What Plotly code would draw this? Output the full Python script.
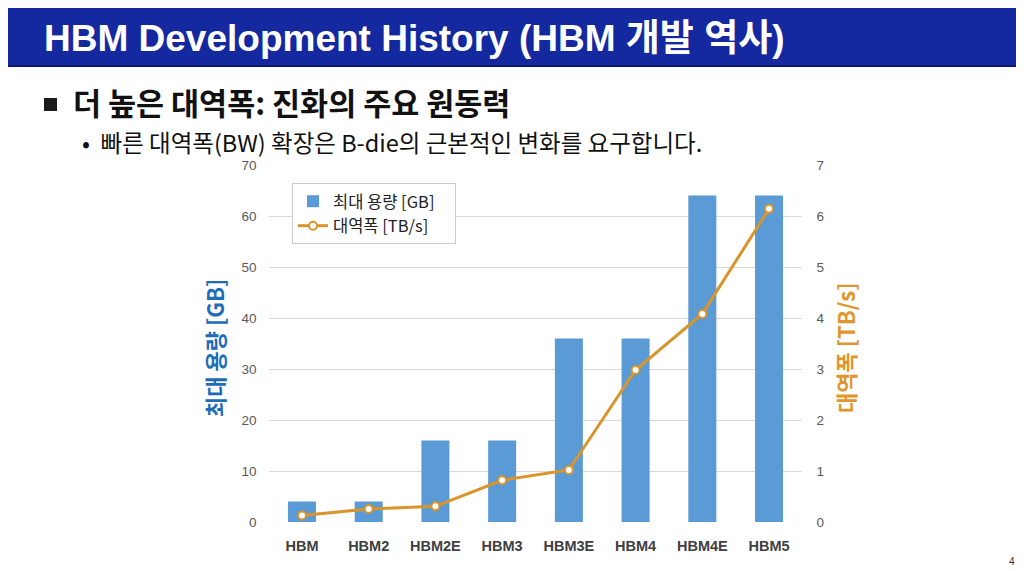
import plotly.graph_objects as go

categories = ["HBM", "HBM2", "HBM2E", "HBM3", "HBM3E", "HBM4", "HBM4E", "HBM5"]
capacity_gb = [4, 4, 16, 16, 36, 36, 64, 64]
bandwidth_tbs = [0.128, 0.256, 0.307, 0.819, 1.02, 2.98, 4.08, 6.14]
left_ticks = [0, 10, 20, 30, 40, 50, 60, 70]
right_ticks = [0, 1, 2, 3, 4, 5, 6, 7]

W, H = 1024, 571
OFF = 8  # page body margin in the browser
def px(x):
    return (x - OFF) / W
def py(y):
    return 1 - (y - OFF) / H

KR = "Noto Sans CJK KR"
AR = "Liberation Sans"
BAR_C = "#5b9bd5"
LINE_C = "#d9952b"
AX_BLUE = "#1f6cb9"
AX_ORANGE = "#e0962c"
PAD = "\u00a0\u00a0\u00a0\u00a0"

fig = go.Figure()
fig.add_trace(go.Bar(
    x=categories, y=capacity_gb, name="최대 용량 [GB]" + PAD,
    marker=dict(color=BAR_C, line=dict(width=0)), yaxis="y",
))
fig.add_trace(go.Scatter(
    x=categories, y=bandwidth_tbs, name="대역폭 [TB/s]" + PAD, yaxis="y2",
    mode="lines+markers",
    line=dict(color=LINE_C, width=3),
    marker=dict(symbol="circle", size=8, color="white", line=dict(color=LINE_C, width=2)),
))

fig.update_layout(
    width=W, height=H,
    margin=dict(l=0, r=0, t=0, b=0, autoexpand=False),
    paper_bgcolor="white", plot_bgcolor="white",
    bargap=0.58,
    showlegend=True,
    legend=dict(
        x=px(292), y=py(183), xanchor="left", yanchor="top",
        bgcolor="white", bordercolor="#cccccc", borderwidth=1,
        font=dict(family=KR, size=16.5, color="#222222"),
        itemwidth=30, tracegroupgap=0,
    ),
    xaxis=dict(
        domain=[px(268.6), px(802.4)], automargin=False,
        tickfont=dict(family=AR, size=14.5, color="#404040", weight="bold"),
        showgrid=False, showline=False, ticks="",
        ticklabelstandoff=13,
        anchor="y",
    ),
    yaxis=dict(
        domain=[py(522), py(165)], automargin=False,
        range=[0, 70], tickvals=left_ticks,
        showgrid=True, gridcolor="#d9d9d9", gridwidth=1,
        zeroline=False, showline=False, ticks="",
        tickfont=dict(family=AR, size=13.5, color="#595959"),
        ticklabelstandoff=11,
    ),
    yaxis2=dict(
        range=[0, 7], tickvals=right_ticks, automargin=False,
        overlaying="y", side="right", anchor="x",
        showgrid=False, zeroline=False, showline=False, ticks="",
        tickfont=dict(family=AR, size=13.5, color="#595959"),
        ticklabelstandoff=13,
    ),
)

shapes = [
    dict(type="rect", xref="paper", yref="paper", x0=0, x1=1, y0=py(66), y1=1,
         fillcolor="#1428a0", line=dict(width=0), layer="below"),
    dict(type="line", xref="paper", yref="paper", x0=0, x1=1, y0=py(66), y1=py(66),
         line=dict(color="#0b1870", width=2), layer="below"),
    dict(type="rect", xref="paper", yref="paper", x0=px(44), x1=px(57), y0=py(111), y1=py(98),
         fillcolor="#1a1a1a", line=dict(width=0)),
]
fig.update_layout(shapes=shapes)

annotations = [
    dict(text="<b>HBM Development History (HBM 개발 역사)</b>", x=px(42), y=py(38),
         xref="paper", yref="paper", xanchor="left", yanchor="middle", showarrow=False,
         font=dict(family=AR + ", " + KR, size=37, color="white")),
    dict(text="<b>더 높은 대역폭: 진화의 주요 원동력</b>", x=px(71), y=py(102),
         xref="paper", yref="paper", xanchor="left", yanchor="middle", showarrow=False,
         font=dict(family=KR, size=30.5, color="#111111")),
    dict(text="•  빠른 대역폭(BW) 확장은 B-die의 근본적인 변화를 요구합니다.", x=px(80), y=py(142),
         xref="paper", yref="paper", xanchor="left", yanchor="middle", showarrow=False,
         font=dict(family=KR, size=23.5, color="#111111")),
    dict(text="<b>최대 용량 [GB]</b>", x=px(214), y=py(348), textangle=-90,
         xref="paper", yref="paper", xanchor="center", yanchor="middle", showarrow=False,
         font=dict(family=KR, size=22, color=AX_BLUE)),
    dict(text="<b>대역폭 [TB/s]</b>", x=px(845), y=py(348), textangle=-90,
         xref="paper", yref="paper", xanchor="center", yanchor="middle", showarrow=False,
         font=dict(family=KR, size=22, color=AX_ORANGE)),
    dict(text="4", x=px(1012), y=py(561),
         xref="paper", yref="paper", xanchor="center", yanchor="middle", showarrow=False,
         font=dict(family=AR, size=10, color="#333333")),
]
fig.update_layout(annotations=annotations)

fig.write_html("out.html")
